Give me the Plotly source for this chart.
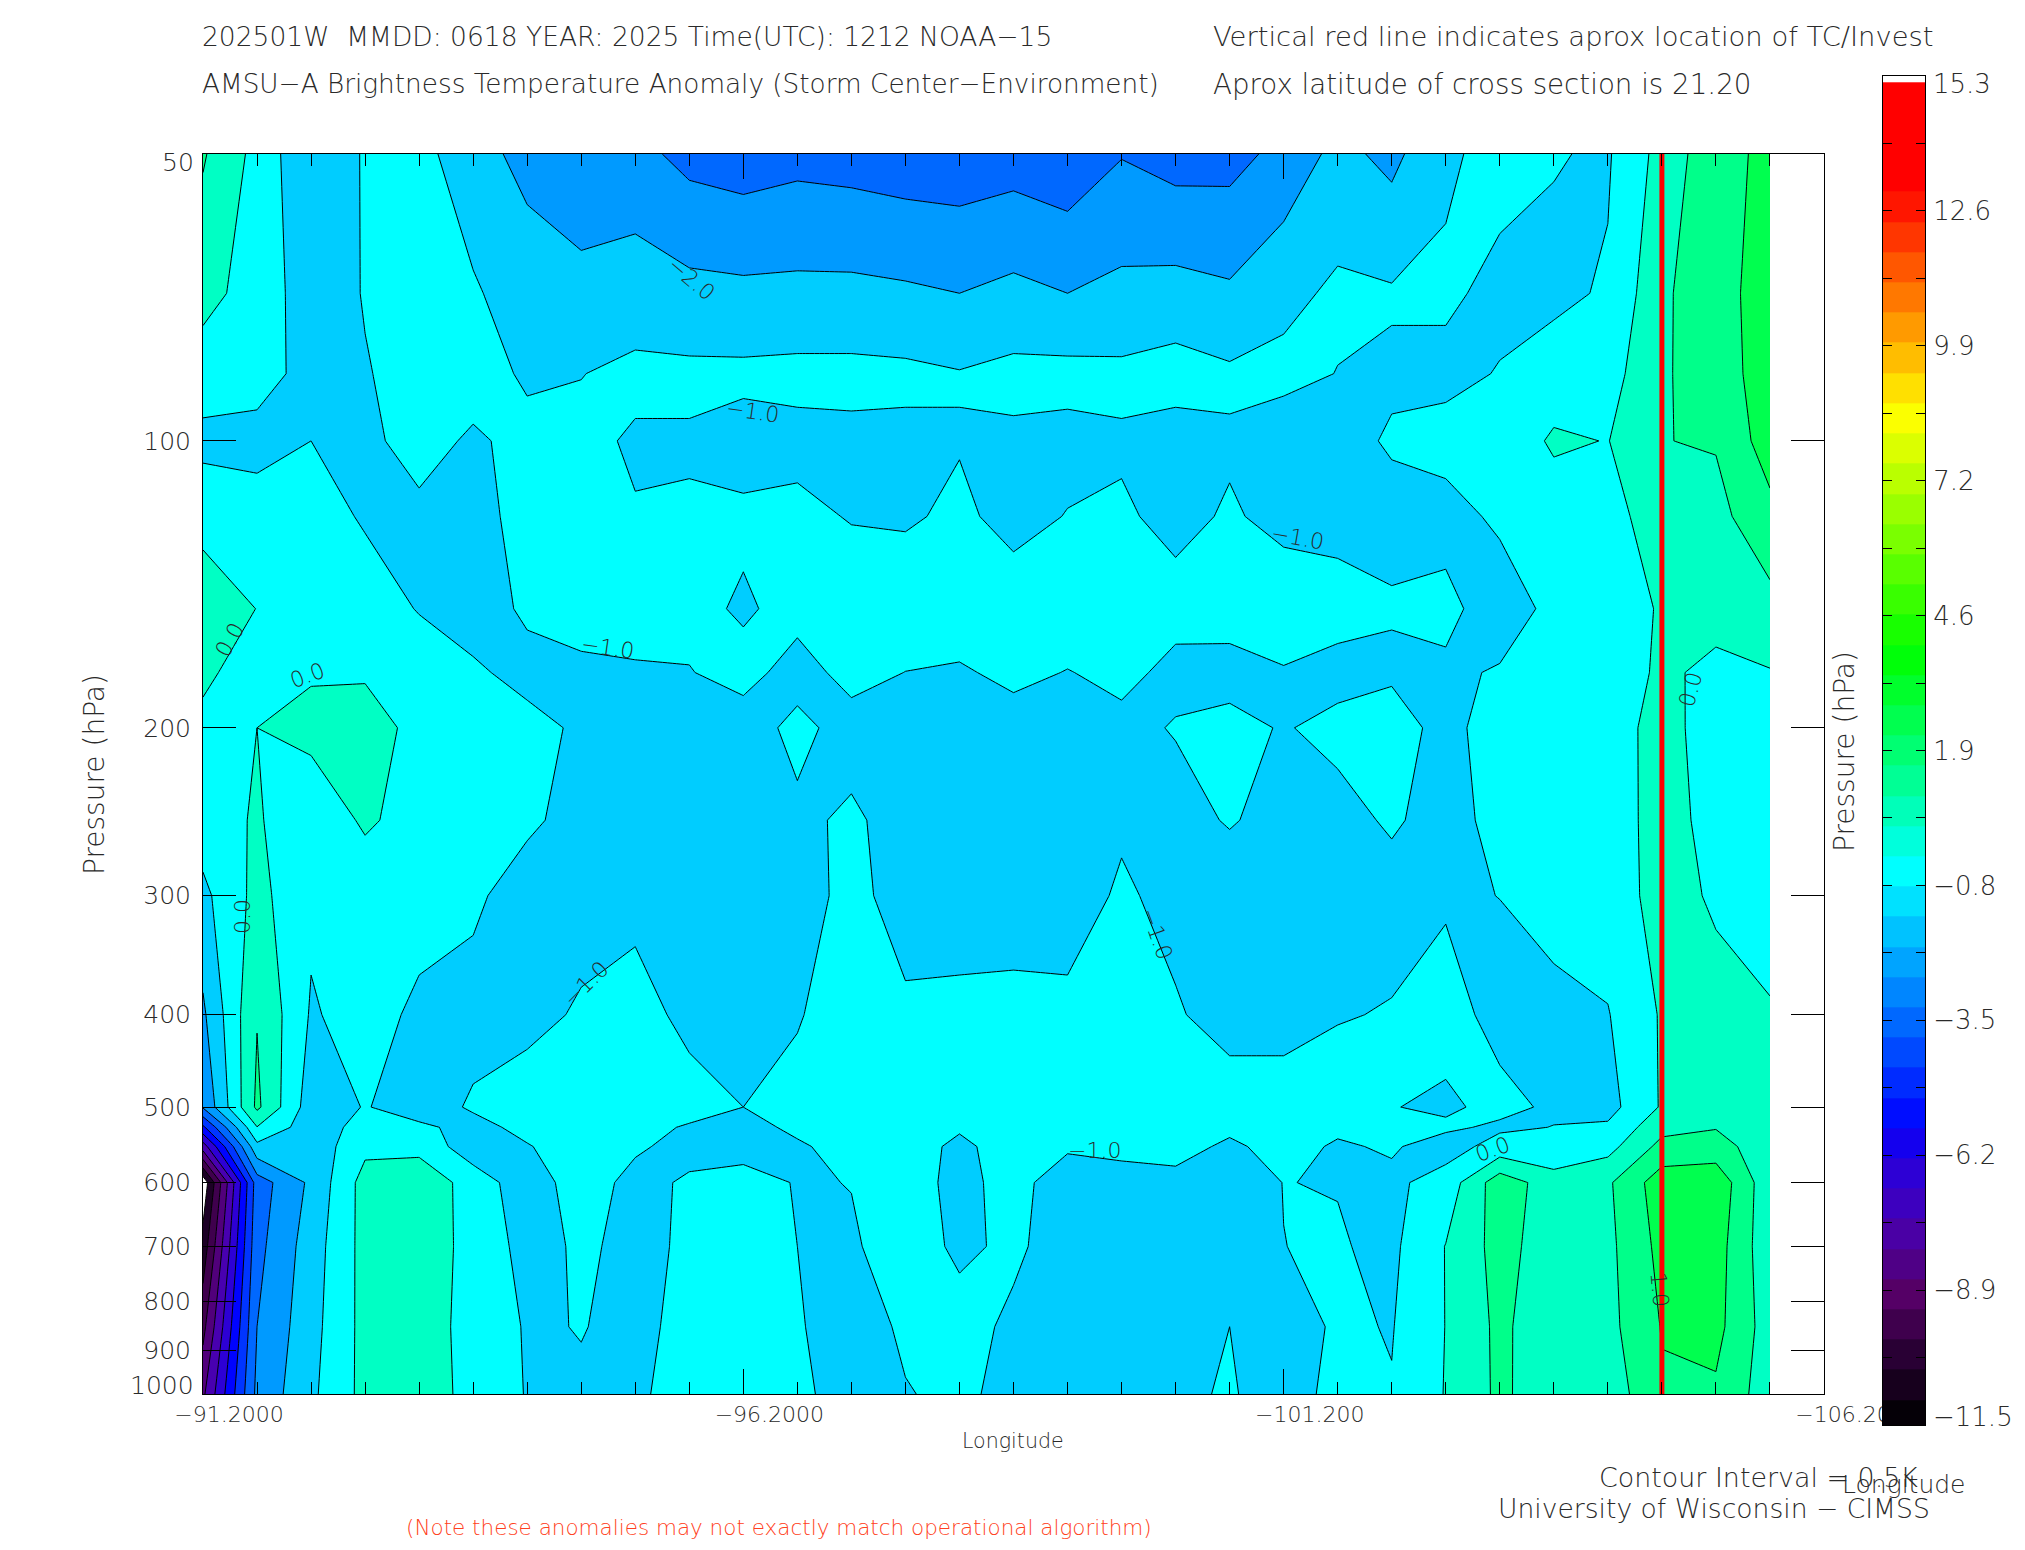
import numpy as np
import plotly.graph_objects as go

# pressure levels of the cross section (hPa)
pressure = [50, 70, 85, 100, 120, 150, 175, 200, 250, 300, 400, 500, 525, 550, 600, 700, 850, 1000]

# longitudes, one column of anomalies per longitude
lons = [-91.2, -91.7, -92.2, -92.7, -93.2, -93.7, -94.2, -94.7, -95.2, -95.7,
        -96.2, -96.7, -97.2, -97.7, -98.2, -98.7, -99.2, -99.7, -100.2, -100.7,
        -101.2, -101.7, -102.2, -102.7, -103.2, -103.7, -104.2, -104.7, -105.2, -105.7]

c00 = [1.1, .35, -.52, -1.25, -.4, .7, .2, -.25, -.45, -1.25, -2.17, -2.9, -5.2, -7.5, -11.7, -10.6, -9.3, -8.2]
c01 = [-.3, -.45, -.65, -1.3, -.6, -.02, -.5, 0.0, .1, .3, .95, 1.2, -.03, -1.27, -3.5, -3.3, -3.0, -2.75]
c02 = [-1.9, -1.5, -1.3, -1.0, -.6, -.4, -.1, .3, -.7, -.8, -1.1, -1.54, -1.6, -1.65, -1.8, -1.5, -1.35, -1.2]
c03 = [-.9, -.95, -1.05, -1.15, -1.1, -.55, -.15, .6, .15, -.6, -.6, -.95, -.6, -.24, .4, .35, .32, .3]
c04 = [-.6, -.75, -.7, -.75, -1.15, -1.05, -.5, -.4, -.4, -.6, -1.2, -1.4, -.85, -.3, .7, .35, .35, .35]
c05 = [-1.75, -.85, -.7, -1.1, -1.3, -1.3, -.9, -.5, -.5, -.85, -1.3, -.9, -1.25, -1.6, -.43, -.2, -.25, -.21]
c06 = [-2.2, -1.65, -1.1, -.8, -.7, -.9, -1.2, -.8, -.85, -1.4, -1.3, -.5, -.78, -1.05, -1.6, -1.4, -1.1, -1.06]
c07 = [-2.45, -1.8, -1.02, -.8, -.7, -.7, -1.15, -1.1, -1.3, -1.4, -.88, -.4, -.5, -.6, -.45, -.84, -.97, -1.1]
c08 = [-2.7, -1.48, -.8, -1.1, -.95, -.6, -1.1, -1.3, -1.3, -1.3, -.6, -.5, -.68, -.85, -1.34, -1.26, -1.2, -1.1]
c09 = [-3.3, -1.71, -.8, -1.1, -.9, -.78, -1.03, -1.3, -1.4, -1.4, -1.28, -.6, -1.1, -1.35, -.85, -.85, -.77, -.75]
c10 = [-3.5, -1.78, -.8, -1.34, -.85, -1.1, -.75, -1.35, -1.4, -1.5, -1.4, -1.0, -1.25, -1.5, -.5, -.45, -.5, -.5]
c11 = [-3.3, -1.75, -.75, -1.25, -.8, -.75, -1.3, -.8, -1.15, -1.5, -1.1, -.6, -.85, -1.1, -1.08, -1.0, -.92, -.85]
c12 = [-3.4, -1.75, -.75, -1.2, -1.05, -.5, -.75, -1.3, -.88, -.65, -.3, -.5, -.61, -.72, -.98, -1.1, -1.45, -1.3]
c13 = [-3.55, -1.85, -.8, -1.2, -1.1, -.5, -1.01, -1.3, -1.3, -1.5, -.8, -.5, -.55, -.6, -.7, -.6, -.85, -1.05]
c14 = [-3.6, -2.0, -.95, -1.05, -.85, -.5, -1.1, -1.3, -1.4, -1.5, -.75, -.6, -.9, -1.19, -1.2, -1.15, -.7, -.8]
c15 = [-3.45, -1.75, -.75, -1.15, -1.25, -.6, -.8, -1.35, -1.4, -1.5, -.7, -.5, -.55, -.6, -.75, -.85, -1.16, -1.3]
c16 = [-3.7, -2.0, -.72, -1.25, -.97, -.5, -1.03, -1.4, -1.45, -1.5, -.75, -.5, -.7, -.9, -1.4, -1.4, -1.4, -1.4]
c17 = [-3.05, -1.75, -.8, -1.1, -.9, -.5, -.8, -1.2, -1.15, -.85, -.4, -.5, -.65, -.8, -1.3, -1.4, -1.4, -1.4]
c18 = [-3.4, -1.65, -.6, -1.4, -1.2, -.75, -1.2, -.95, -1.3, -1.3, -.9, -.5, -.6, -.7, -1.25, -1.4, -1.4, -1.2]
c19 = [-3.35, -1.85, -.85, -1.1, -.92, -.7, -1.25, -.8, -.93, -1.5, -1.4, -.5, -.83, -1.15, -1.3, -1.3, -1.0, -.9]
c20 = [-2.7, -1.26, -.75, -1.5, -1.2, -.6, -1.05, -1.05, -1.3, -1.5, -1.4, -.5, -.6, -.7, -.99, -1.005, -1.5, -1.5]
c21 = [-1.7, -.83, -1.02, -1.3, -1.25, -.7, -1.25, -.8, -1.25, -1.4, -1.05, -.6, -.85, -1.1, -1.03, -.93, -.85, -.67]
c22 = [-2.28, -.9, -1.15, -.9, -1.3, -.9, -1.2, -.4, -.9, -1.3, -.95, -.97, -.75, -.9, -1.2, -1.2, -1.05, -.95]
c23 = [-1.1, -.9, -1.15, -.8, -1.2, -.85, -1.1, -1.45, -1.3, -1.11, -.65, -1.15, -.85, -1.4, -.6, .03, .02, .05]
c24 = [-.8, -1.15, -.97, -.7, -.9, -1.3, -.95, -.3, -.75, -.99, -1.3, -.75, -1.15, -.65, 1.58, 1.39, 1.23, 1.2]
c25 = [-.95, -1.2, -.6, .15, -.55, -.85, -.8, -.4, -.5, -.6, -1.3, -1.15, -.98, -.8, .46, .42, .27, .35]
c26 = [-1.1, -.9, -.4, -.03, -.35, -.55, -.5, -.35, -.45, -.5, -1.05, -1.35, -.85, -.35, .85, .75, .7, .4]
c27 = [.35, .8, .85, .98, .5, .1, .15, .28, .35, .35, .1, .1, .7, 1.3, 2.55, 2.3, 2.05, 1.9]
c28 = [1.7, 1.75, 1.6, 1.07, .7, .3, -.2, -.37, -.3, -.12, .3, .5, .95, 1.4, 2.7, 2.44, 2.3, 1.85]
c29 = [2.2, 2.3, 2.4, 2.5, 1.7, .68, -.05, -.7, -.9, -.8, .15, .45, .42, .4, .3, .3, .5, .45]

columns = [c00, c01, c02, c03, c04, c05, c06, c07, c08, c09, c10, c11, c12, c13, c14,
           c15, c16, c17, c18, c19, c20, c21, c22, c23, c24, c25, c26, c27, c28, c29]

storm_lon = -104.7

# colour bar
bar_levels = [-11.3, -10.7, -10.1, -9.5, -8.9, -8.3, -7.7, -7.1, -6.5, -5.9, -5.3, -4.7, -4.1, -3.5, -2.9,
              -2.3, -1.7, -1.1, -0.5, 0.1, 0.7, 1.3, 1.9, 2.5, 3.1, 3.7, 4.3, 4.9, 5.5, 6.1, 6.7, 7.3, 7.9,
              8.5, 9.1, 9.7, 10.3, 10.9, 11.5, 12.1, 12.7, 13.3, 13.9, 14.5, 14.95]
bar_major = [-8.82, -6.14, -3.46, -0.78, 1.9, 4.58, 7.26, 9.94, 12.62]
bar_major_text = ['\u22128.9', '\u22126.2', '\u22123.5', '\u22120.8', '1.9', '4.6', '7.2', '9.9', '12.6']
bar_minor = [-10.16, -7.48, -4.8, -2.12, 0.56, 3.24, 5.92, 8.6, 11.28, 13.96]

# value -> colour of the table
cs_values = [-11.5, -11.49, -10.2, -8.9, -7.5, -6.2, -5.55, -0.5, 3.85, 8.57, 10.75, 13.1, 15.5]
cs_colors = ['#ffffff', '#000000', '#250030', '#550066', '#4800b0', '#2500e0', '#0000ff',
             '#00ffff', '#00ff00', '#ffff00', '#ff8000', '#ff0000', '#ff0000']
colorscale = [[(v + 11.5) / 27, c] for v, c in zip(cs_values, cs_colors)]

W, H = 2025, 1550
FONT = 'DejaVu Sans Light, DejaVu Sans'
GREY = '#2a2a2a'


# the page has an 8px body margin, so picture pixels are shifted back by 8
def fx(x):
    return (x - 8) / W


def fy(y):
    return 1 - (y - 8) / H


z = np.array(columns).T
logp = np.log10(pressure)

fig = go.Figure()

fig.add_trace(go.Contour(
    x=lons, y=logp, z=z, colorscale=colorscale, zmin=-11.5, zmax=15.5, showscale=False,
    autocontour=False, contours=dict(start=-11, end=15, size=1, coloring='fill', showlines=True),
    line=dict(color='black', width=1, smoothing=0), hoverinfo='skip'))

fig.add_trace(go.Scatter(x=[storm_lon, storm_lon], y=[logp[0], logp[-1]], mode='lines',
                         line=dict(color='#ff0000', width=5), hoverinfo='skip', showlegend=False))

fig.add_trace(go.Heatmap(x=[0], y=bar_levels, z=[[v] for v in bar_levels], colorscale=colorscale,
                         zmin=-11.5, zmax=15.5, showscale=False, xaxis='x2', yaxis='y2', hoverinfo='skip'))

tick_font = dict(family=FONT, size=22, color=GREY)

fig.update_layout(
    width=W, height=H, autosize=False, margin=dict(l=0, r=0, t=0, b=0),
    paper_bgcolor='white', plot_bgcolor='white', showlegend=False,
    xaxis=dict(domain=[fx(203), fx(1824)], range=[-91.2, -106.2], showgrid=False, zeroline=False, automargin=False,
               showline=True, linecolor='black', linewidth=1, mirror='ticks', ticks='inside', ticklen=25,
               tickcolor='black', tickmode='array', tickvals=[-91.2, -96.2, -101.2, -106.2],
               ticktext=['\u221291.2000', '\u221296.2000', '\u2212101.200', '\u2212106.200'],
               ticklabelshift=-26, ticklabelstandoff=1, tickfont=tick_font,
               minor=dict(ticks='inside', ticklen=12, tickcolor='black', tickvals=lons, showgrid=False)),
    yaxis=dict(domain=[fy(1394), fy(154)], range=[np.log10(1000), np.log10(50)], showgrid=False, zeroline=False,
               automargin=False,
               showline=True, linecolor='black', linewidth=1, mirror='ticks', ticks='inside', ticklen=33,
               tickcolor='black', tickmode='array', tickvals=np.log10([100, 200, 300, 400, 500, 600, 700, 800, 900]),
               ticktext=['100', '200', '300', '400', '500', '600', '700', '800', '900'],
               ticklabelstandoff=6, tickfont=dict(family=FONT, size=25, color=GREY)),
    xaxis2=dict(domain=[fx(1883), fx(1925)], range=[-0.5, 0.5], showgrid=False, zeroline=False, anchor='y2',
                automargin=False,
                showticklabels=False, ticks='', showline=True, linecolor='black', linewidth=1, mirror=True),
    yaxis2=dict(domain=[fy(1425), fy(76)], range=[-11.5, 15.3], side='right', anchor='x2', showgrid=False,
                automargin=False,
                zeroline=False, showline=True, linecolor='black', linewidth=1, mirror='ticks', ticks='inside',
                ticklen=9, tickcolor='black', tickmode='array', tickvals=bar_major, ticktext=bar_major_text,
                ticklabelstandoff=2, tickfont=dict(family=FONT, size=26, color=GREY),
                minor=dict(ticks='inside', ticklen=9, tickcolor='black', tickvals=bar_minor, showgrid=False)),
)

texts = [
    ('202501W  MMDD: 0618 YEAR: 2025 Time(UTC): 1212 NOAA\u221215', 200, 37, 'left', 26.5, GREY),
    ('AMSU\u2212A Brightness Temperature Anomaly (Storm Center\u2212Environment)', 200, 84, 'left', 26.3, GREY),
    ('Vertical red line indicates aprox location of TC/Invest', 1211, 37, 'left', 27.4, GREY),
    ('Aprox latitude of cross section is 21.20', 1211, 84, 'left', 27.7, GREY),
    ('Contour Interval = 0.5K', 1597, 1477, 'left', 26.9, GREY),
    ('University of Wisconsin \u2212 CIMSS', 1496, 1508, 'left', 26.6, GREY),
    ('Longitude', 1840, 1484, 'left', 25, GREY),
    ('Longitude', 960, 1441, 'left', 20.6, GREY),
    ('(Note these anomalies may not exactly match operational algorithm)', 404, 1527, 'left', 21.5, '#ff4020'),
    ('50', 196, 162, 'right', 25, GREY),
    ('1000', 196, 1385, 'right', 25, GREY),
    ('15.3', 1931, 84, 'left', 26, GREY),
    ('\u221211.5', 1931, 1417, 'left', 26, GREY),
]
for t, x, y, anchor, size, color in texts:
    fig.add_annotation(text=t, xref='paper', yref='paper', x=fx(x), y=fy(y), xanchor=anchor, yanchor='middle',
                       showarrow=False, font=dict(family=FONT, size=size, color=color))

rotated = [
    ('Pressure (hPa)', 94, 775, 28),
    ('Pressure (hPa)', 1844, 752, 28),
]
for t, x, y, size in rotated:
    fig.add_annotation(text=t, xref='paper', yref='paper', x=fx(x), y=fy(y), textangle=-90, xanchor='center',
                       yanchor='middle', showarrow=False, font=dict(family=FONT, size=size, color=GREY))

# colour bar title runs off the right edge of the image
fig.add_annotation(text='Hot Anomaly (K)', xref='paper', yref='paper', x=fx(2021), y=fy(755), textangle=-90,
                   xanchor='left', yanchor='middle', showarrow=False,
                   font=dict(family=FONT, size=25, color=GREY))

# contour labels
labels = [
    ('\u22122.0', 691, 278, 40),
    ('\u22121.0', 752, 411, 8),
    ('\u22121.0', 1297, 537, 10),
    ('\u22121.0', 607, 648, 8),
    ('0.0', 229, 640, -60),
    ('0.0', 307, 676, -20),
    ('0.0', 242, 917, -90),
    ('\u22121.0', 585, 984, -45),
    ('\u22121.0', 1157, 933, 70),
    ('\u22121.0', 1094, 1150, 0),
    ('0.0', 1492, 1149, -20),
    ('0.0', 1691, 690, -75),
    ('1.0', 1660, 1289, 85),
]
for t, x, y, angle in labels:
    fig.add_annotation(text=t, xref='paper', yref='paper', x=fx(x), y=fy(y), textangle=angle, xanchor='center',
                       yanchor='middle', showarrow=False, font=dict(family=FONT, size=22, color=GREY))

fig.write_html("out.html")
